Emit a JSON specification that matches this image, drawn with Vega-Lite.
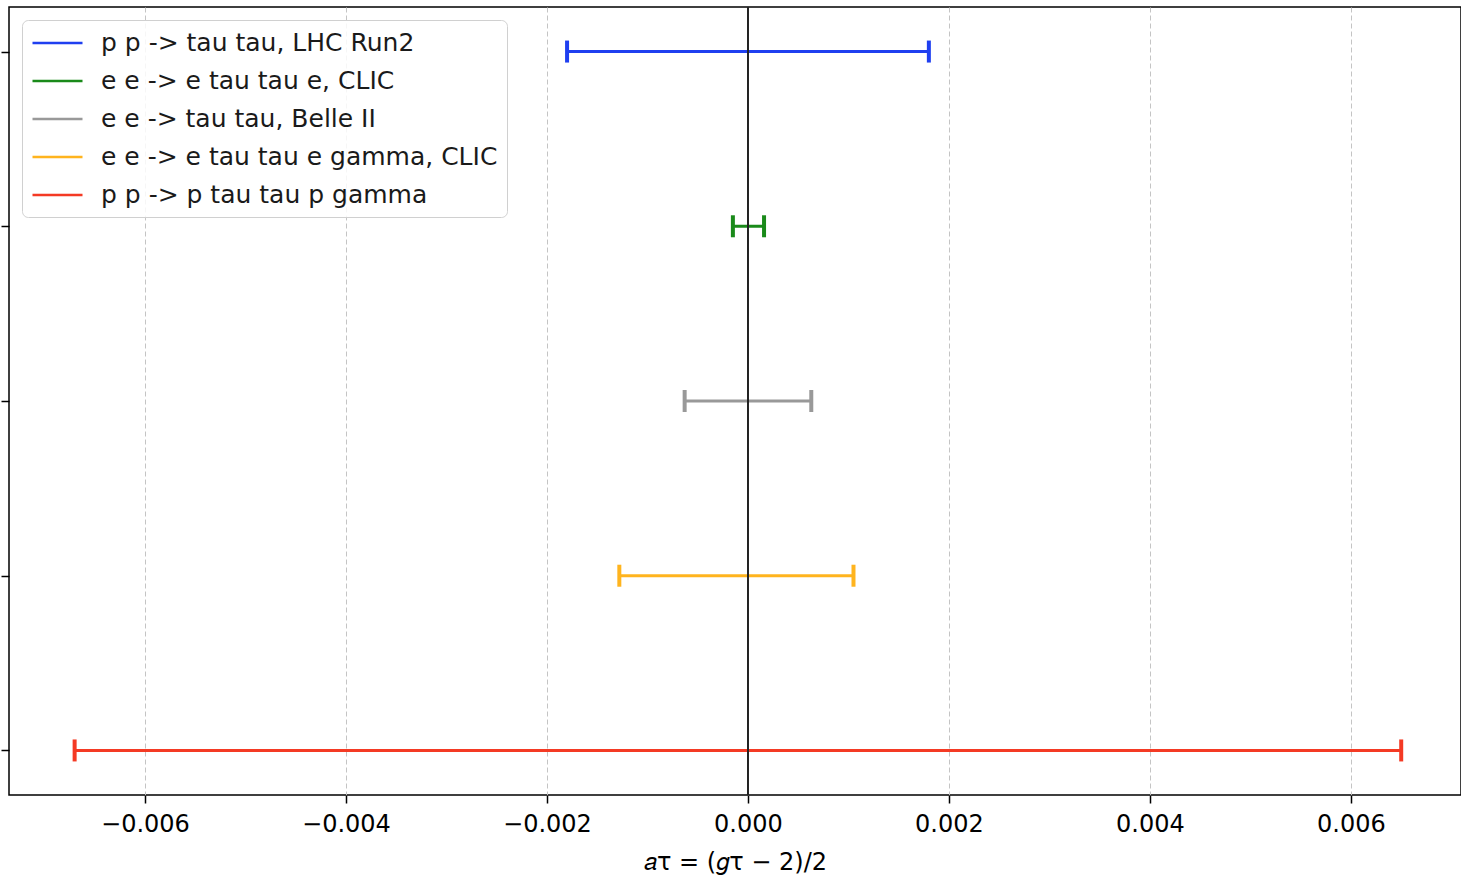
{
  "$schema": "https://vega.github.io/schema/vega-lite/v6.json",
  "width": 1452,
  "height": 788,
  "autosize": {"type": "none"},
  "padding": {"left": 9, "top": 7, "right": 0, "bottom": 83},
  "background": "white",
  "config": {
    "font": "DejaVu Sans",
    "view": {"stroke": "black", "strokeWidth": 1.5}
  },
  "data": {
    "values": [
      {"process": "p p -> tau tau, LHC Run2", "row": 4, "lo": -0.0018, "hi": 0.0018},
      {"process": "e e -> e tau tau e, CLIC", "row": 3, "lo": -0.00015, "hi": 0.00016},
      {"process": "e e -> tau tau, Belle II", "row": 2, "lo": -0.00063, "hi": 0.00063},
      {"process": "e e -> e tau tau e gamma, CLIC", "row": 1, "lo": -0.00128, "hi": 0.00105},
      {"process": "p p -> p tau tau p gamma", "row": 0, "lo": -0.0067, "hi": 0.0065}
    ]
  },
  "encoding": {
    "y": {
      "field": "row",
      "type": "quantitative",
      "scale": {"domain": [-0.255, 4.255], "nice": false, "zero": false},
      "axis": {
        "title": null,
        "labels": false,
        "grid": false,
        "domain": false,
        "values": [0, 1, 2, 3, 4],
        "ticks": true,
        "tickColor": "black",
        "tickSize": 8,
        "tickWidth": 1.5
      }
    },
    "color": {
      "field": "process",
      "type": "nominal",
      "scale": {
        "domain": ["p p -> tau tau, LHC Run2", "e e -> e tau tau e, CLIC", "e e -> tau tau, Belle II", "e e -> e tau tau e gamma, CLIC", "p p -> p tau tau p gamma"],
        "range": ["#1f3ff0", "#1a8a1a", "#999999", "#ffb41e", "#f43a24"]
      },
      "legend": {
        "title": null,
        "orient": "none",
        "legendX": 13,
        "legendY": 13,
        "symbolType": "M-1,0H3",
        "symbolSize": 625,
        "symbolStrokeWidth": 2.5,
        "labelFont": "DejaVu Sans",
        "labelFontSize": 25,
        "labelColor": "#1a1a1a",
        "labelOffset": 42,
        "labelLimit": 600,
        "rowPadding": 11,
        "padding": 9,
        "fillColor": "rgba(255,255,255,0.85)",
        "strokeColor": "#d0d0d0",
        "cornerRadius": 6
      }
    }
  },
  "layer": [
    {
      "mark": {"type": "rule", "strokeWidth": 3},
      "encoding": {
        "x": {
          "field": "lo",
          "type": "quantitative",
          "scale": {"domain": [-0.007353, 0.007095], "nice": false, "zero": false},
          "axis": {
            "title": "𝑎τ = (𝑔τ − 2)/2",
            "titleFont": "DejaVu Sans",
            "titleFontSize": 24,
            "titleFontWeight": "normal",
            "titleColor": "black",
            "titlePadding": 14,
            "values": [-0.006, -0.004, -0.002, 0, 0.002, 0.004, 0.006],
            "format": ".3f",
            "labelFont": "DejaVu Sans",
            "labelFontSize": 24,
            "labelColor": "black",
            "labelPadding": 9,
            "tickColor": "black",
            "tickSize": 8,
            "tickWidth": 1.5,
            "domain": false,
            "grid": true,
            "gridColor": "#c4c4c4",
            "gridDash": [5, 3],
            "gridWidth": 1
          }
        },
        "x2": {"field": "hi"}
      }
    },
    {
      "mark": {"type": "tick", "orient": "vertical", "size": 22, "thickness": 4, "opacity": 1},
      "encoding": {"x": {"field": "lo", "type": "quantitative"}}
    },
    {
      "mark": {"type": "tick", "orient": "vertical", "size": 22, "thickness": 4, "opacity": 1},
      "encoding": {"x": {"field": "hi", "type": "quantitative"}}
    },
    {
      "mark": {"type": "rule", "color": "#222222", "strokeWidth": 1.2},
      "encoding": {"x": {"datum": 0}, "y": null, "color": null}
    }
  ]
}
